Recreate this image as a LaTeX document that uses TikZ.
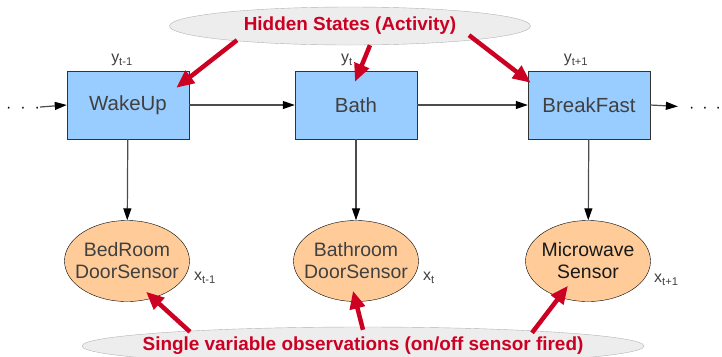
\documentclass[tikz,border=0pt]{standalone}
\usepackage{fontspec}
\setmainfont{Liberation Sans}
\usetikzlibrary{arrows.meta, positioning, shapes.geometric}
\definecolor{stateblue}{HTML}{99CCFF}
\definecolor{sensororange}{HTML}{FFCC99}
\definecolor{notered}{RGB}{204,0,34}
\definecolor{txtgray}{HTML}{404040}

\begin{document}
\begin{tikzpicture}[x=1bp, y=-1bp,
    box/.style={draw=black!80, fill=stateblue, minimum width=122bp,
                minimum height=68bp, font=\fontsize{20.5}{24}\selectfont,
                text=txtgray},
    sensor/.style={ellipse, draw=black, fill=sensororange, minimum width=125bp,
                   minimum height=81bp, inner xsep=-20bp, inner ysep=0pt,
                   align=center, font=\fontsize{19.5}{22}\selectfont,
                   text=txtgray},
    cloud/.style={ellipse, draw=black!30, fill=black!7, inner ysep=0pt,
                  font=\bfseries\fontsize{19}{22}\selectfont, text=notered},
    lbl/.style={font=\fontsize{16}{18}\selectfont, text=txtgray},
    dots/.style={inner sep=0pt, text height=10bp, text depth=0pt,
                 font=\fontsize{16}{18}\selectfont},
    arrow/.style={-{Triangle[length=12bp, width=8bp, color=black]},
                  line width=1.2bp, draw=black!70},
    redarrow/.style={-{Triangle[length=18bp, width=15bp]}, line width=4.5bp,
                     draw=notered}
]
\useasboundingbox (0,0) rectangle (722,356);
\clip (0,0) rectangle (722,356);

% Hidden states (activities)
\node[box] (wake) at (128,105) {WakeUp};
\node[box] (bath) at (356,105) {Bath};
\node[box] (bfast) at (589,105) {BreakFast};
\node[lbl, above=1bp of wake.north, xshift=-6bp] {y\textsubscript{t-1}};
\node[lbl, above=1bp of bath.north, xshift=-9bp] {y\textsubscript{t}};
\node[lbl, above=1bp of bfast.north, xshift=-13bp] {y\textsubscript{t+1}};

% Observations (sensors)
\node[sensor] (bed) at (127,261) {BedRoom\\DoorSensor};
\node[sensor] (bathsens) at (356,261) {Bathroom\\DoorSensor};
\node[sensor, text=black!90] (micro) at (588,261) {Microwave\\Sensor};
\node[lbl, right=1bp of bed.east, yshift=-17bp] {x\textsubscript{t-1}};
\node[lbl, right=1bp of bathsens.east, yshift=-17bp] {x\textsubscript{t}};
\node[lbl, right=0bp of micro.east, yshift=-19bp] {x\textsubscript{t+1}};

% Chain ends
\node[dots] (dleft) at (23,107) {·\hspace{9bp}·\hspace{9bp}·};
\node[dots] (dright) at (705,107) {·\hspace{8bp}·\hspace{8bp}·};

% Notes
\node[cloud, minimum width=361bp, minimum height=38bp] (hidden) at (350,26)
    {Hidden States (Activity)};
\node[cloud, minimum width=562bp, minimum height=38bp, inner xsep=-40bp]
    (obs) at (363,346) {Single variable observations (on/off sensor fired)};

% Arrows
\draw[arrow] (dleft.east) -- (wake.west);
\draw[arrow] (wake) -- (bath);
\draw[arrow] (bath) -- (bfast);
\draw[arrow, shorten >=11bp] (bfast.east) -- (dright.west);
\draw[arrow] (wake) -- (bed);
\draw[arrow] (bath) -- (bathsens);
\draw[arrow] (bfast) -- (micro);

% Red pointers
\draw[redarrow] ([shift={(-113,-5)}]hidden.south)
    -- ([shift={(-13,17)}]wake.north east);
\draw[redarrow] ([shift={(20,0)}]hidden.south)
    -- ([shift={(-1,11)}]bath.north);
\draw[redarrow] ([shift={(119,-10)}]hidden.south)
    -- ([shift={(3,12)}]bfast.north west);
\draw[redarrow] ([shift={(-173,5)}]obs.north)
    -- ([shift={(19,-10)}]bed.south);
\draw[redarrow] ([shift={(0,3)}]obs.north)
    -- ([shift={(-3,-11)}]bathsens.south);
\draw[redarrow] ([shift={(169,6)}]obs.north)
    -- ([shift={(-20,-16)}]micro.south);

\end{tikzpicture}
\end{document}
